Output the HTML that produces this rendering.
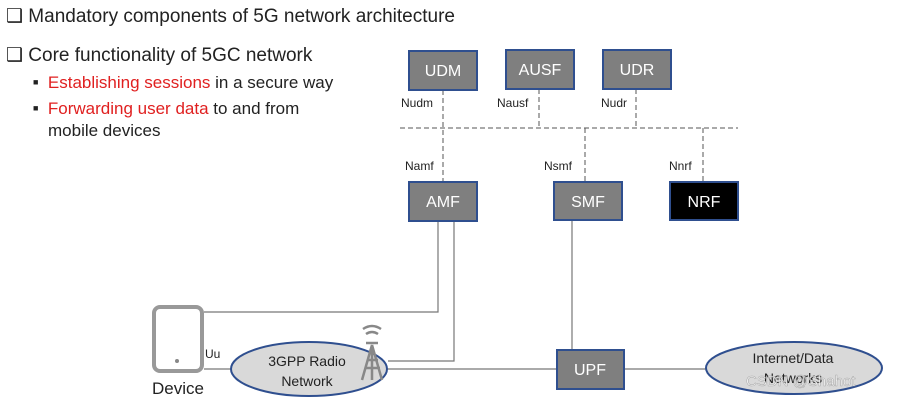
<!DOCTYPE html>
<html><head><meta charset="utf-8"><style>
body{margin:0;width:901px;height:400px;background:#fff;overflow:hidden;font-family:"Liberation Sans",sans-serif;position:relative}
.t{position:absolute;white-space:nowrap;color:#222}
.r{color:#e02020}
</style></head><body>
<div class="t" style="left:6px;top:5px;font-size:19px">&#10065; Mandatory components of 5G network architecture</div>
<div class="t" style="left:6px;top:44px;font-size:19px">&#10065; Core functionality of 5GC network</div>
<div class="t" style="left:33px;top:73px;font-size:17px"><span style="font-size:9px;vertical-align:3px">&#9632;</span>&nbsp; <span class="r">Establishing sessions</span> in a secure way</div>
<div class="t" style="left:33px;top:99px;font-size:17px"><span style="font-size:9px;vertical-align:3px">&#9632;</span>&nbsp; <span class="r">Forwarding user data</span> to and from</div>
<div class="t" style="left:48px;top:121px;font-size:17px">mobile devices</div>
<svg width="901" height="400" style="position:absolute;left:0;top:0" font-family="Liberation Sans,sans-serif">
<g stroke="#555" stroke-width="1" stroke-dasharray="5,3" fill="none">
<line x1="400" y1="128" x2="738" y2="128"/>
<line x1="443" y1="90" x2="443" y2="181"/>
<line x1="539" y1="89" x2="539" y2="128"/>
<line x1="636" y1="89" x2="636" y2="128"/>
<line x1="585" y1="128" x2="585" y2="181"/>
<line x1="703" y1="128" x2="703" y2="181"/>
</g>
<g stroke="#777" stroke-width="1.2" fill="none">
<polyline points="438,221 438,312 204,312"/>
<polyline points="454,221 454,361 388,361"/>
<line x1="572" y1="220" x2="572" y2="350"/>
<line x1="384" y1="369" x2="556" y2="369"/>
<line x1="624" y1="369" x2="706" y2="369"/>
<line x1="204" y1="369" x2="232" y2="369"/>
</g>
<g stroke="#2f4f8f" stroke-width="2" fill="#7f7f7f">
<rect x="409" y="51" width="68" height="39"/>
<rect x="506" y="50" width="68" height="39"/>
<rect x="603" y="50" width="68" height="39"/>
<rect x="409" y="182" width="68" height="39"/>
<rect x="554" y="182" width="68" height="38"/>
<rect x="670" y="182" width="68" height="38" fill="#000"/>
<rect x="557" y="350" width="67" height="39"/>
<ellipse cx="309" cy="369" rx="78" ry="27" fill="#d9d9d9"/>
<ellipse cx="794" cy="368" rx="88" ry="26" fill="#d9d9d9"/>
</g>
<g fill="#fff" font-size="16" text-anchor="middle">
<text x="443" y="76">UDM</text><text x="540" y="75">AUSF</text><text x="637" y="75">UDR</text>
<text x="443" y="207">AMF</text><text x="588" y="207">SMF</text><text x="704" y="207">NRF</text>
<text x="590" y="375">UPF</text>
</g>
<g fill="#222" font-size="12">
<text x="401" y="107">Nudm</text><text x="497" y="107">Nausf</text><text x="601" y="107">Nudr</text>
<text x="405" y="170">Namf</text><text x="544" y="170">Nsmf</text><text x="669" y="170">Nnrf</text>
<text x="205" y="358">Uu</text>
</g>
<g fill="#222" font-size="14" text-anchor="middle">
<text x="307" y="366">3GPP Radio</text><text x="307" y="386">Network</text>
<text x="793" y="363">Internet/Data</text><text x="793" y="383">Networks</text>
</g>
<text x="178" y="394" font-size="17" text-anchor="middle" fill="#222">Device</text>
<rect x="154" y="307" width="48" height="64" rx="6" fill="none" stroke="#999" stroke-width="4"/>
<circle cx="177" cy="361" r="2" fill="#888"/>
<g stroke="#888" stroke-width="2.5" fill="none">
<path d="M372 380 L372 345 L362 380 M372 345 L382 380 M365 368 L380 368 M367 360 L378 360"/>
<line x1="366" y1="343" x2="378" y2="343"/>
<path d="M366 334 Q372 330 378 334"/><path d="M363 329 Q372 323 381 329"/>
</g>
<text x="746" y="386" font-size="15" fill="#fff" opacity="0.8" stroke="#999" stroke-width="0.5">CSDN @Shahot</text>
</svg>
</body></html>
